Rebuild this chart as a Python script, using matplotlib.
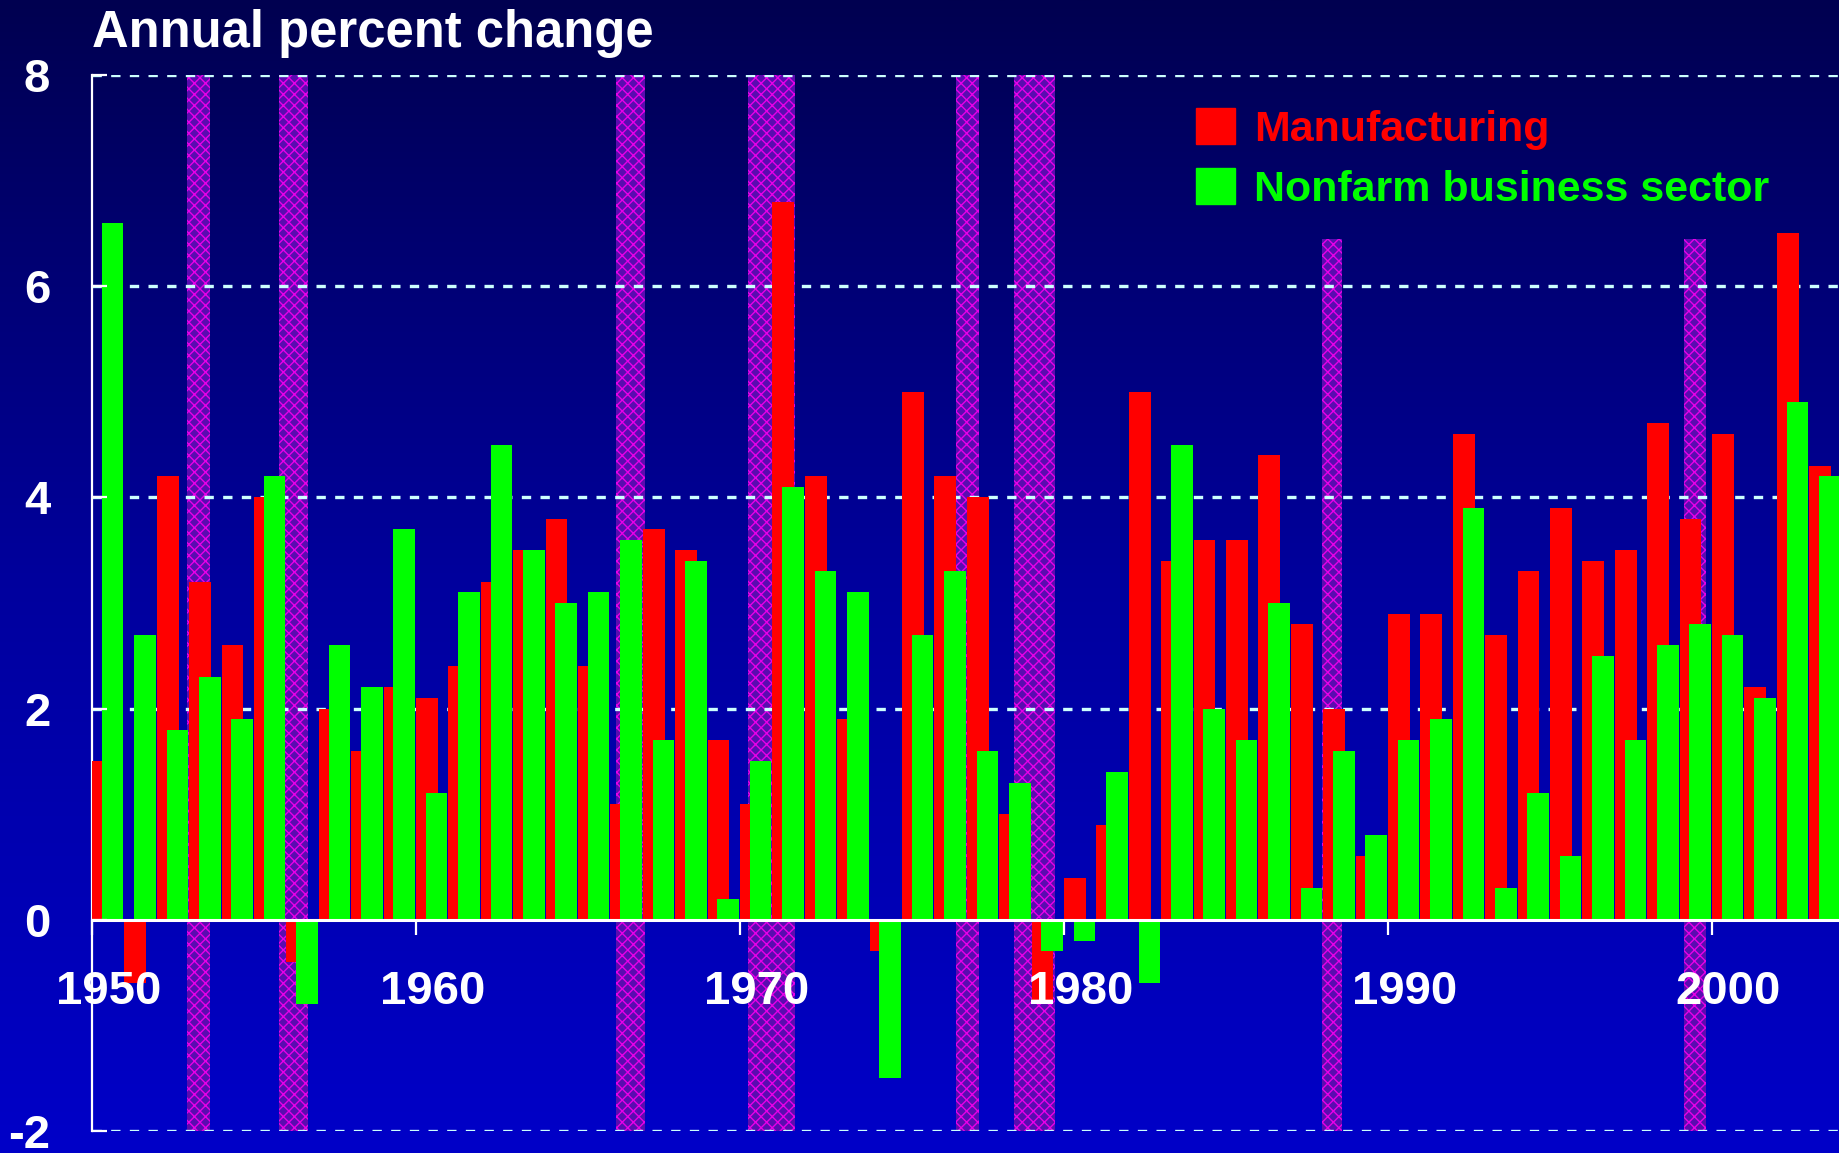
import numpy as np
import matplotlib
matplotlib.use('Agg')
import matplotlib.pyplot as plt
from matplotlib.patches import Patch

plt.rcParams['font.family'] = ['Liberation Sans', 'DejaVu Sans']
plt.rcParams['font.weight'] = 'bold'
plt.rcParams['hatch.linewidth'] = 1.0

# data
years = list(range(1950, 2004))
manufacturing = [1.5, -0.6, 4.2, 3.2, 2.6, 4.0, -0.4, 2.0, 1.6, 2.2,
                 2.1, 2.4, 3.2, 3.5, 3.8, 2.4, 1.1, 3.7, 3.5, 1.7,
                 1.1, 6.8, 4.2, 1.9, -0.3, 5.0, 4.2, 4.0, 1.0, -0.8,
                 0.4, 0.9, 5.0, 3.4, 3.6, 3.6, 4.4, 2.8, 2.0, 0.6,
                 2.9, 2.9, 4.6, 2.7, 3.3, 3.9, 3.4, 3.5, 4.7, 3.8,
                 4.6, 2.2, 6.5, 4.3]
nonfarm = [6.6, 2.7, 1.8, 2.3, 1.9, 4.2, -0.8, 2.6, 2.2, 3.7,
           1.2, 3.1, 4.5, 3.5, 3.0, 3.1, 3.6, 1.7, 3.4, 0.2,
           1.5, 4.1, 3.3, 3.1, -1.5, 2.7, 3.3, 1.6, 1.3, -0.3,
           -0.2, 1.4, -0.6, 4.5, 2.0, 1.7, 3.0, 0.3, 1.6, 0.8,
           1.7, 1.9, 3.9, 0.3, 1.2, 0.6, 2.5, 1.7, 2.6, 2.8,
           2.7, 2.1, 4.9, 4.2]

# shaded periods (start, end, top)
shade_start = [1952.93, 1955.77, 1966.17, 1970.25, 1976.67, 1978.46, 1987.96, 1999.13]
shade_end = [1953.64, 1956.67, 1967.07, 1971.70, 1977.38, 1979.72, 1988.58, 1999.82]
shade_top = [8, 8, 8, 8, 8, 8, 6.45, 6.45]

decades = [1950, 1960, 1970, 1980, 1990, 2000]
yticks = [-2, 0, 2, 4, 6, 8]

RED = '#ff0000'
GREEN = '#00ff00'
WHITE = '#ffffff'
GRID = '#ccffff'

fig = plt.figure(figsize=(18.39, 11.53), dpi=100)

# background gradient
bg = fig.add_axes([0, 0, 1, 1], zorder=-5)
pos = np.linspace(0, 1, 400)
blue = np.interp(pos, [0, 0.51, 1], [0x50, 0x9e, 0xc8]) / 255.0
grad = np.zeros((400, 1, 3))
grad[:, 0, 2] = blue
bg.imshow(grad, aspect='auto', extent=[0, 1, 0, 1], origin='upper')
bg.set_axis_off()

ax = fig.add_axes([92 / 1839, 22 / 1153, 1 - 92 / 1839, (1131 - 75) / 1153])
ax.set_facecolor('none')
ax.set_xlim(1950, 1950 + 1747 / 32.4)
ax.set_ylim(-2, 8)

for s, e, t in zip(shade_start, shade_end, shade_top):
    ax.bar(s, t + 2, width=e - s, bottom=-2, align='edge',
           color='#5a0cb0', edgecolor='#e800e8', hatch='xxx',
           linewidth=0, zorder=1)

for y in [-2, 2, 4, 6, 8]:
    ax.axhline(y, color=GRID, lw=2.4, ls=(0, (2.8, 2.8)), zorder=2)

yr = np.array(years)
ax.bar(yr + 0.0, manufacturing, width=0.67, align='edge', color=RED,
       linewidth=0, zorder=3, label='Manufacturing')
ax.bar(yr + 0.3, nonfarm, width=0.67, align='edge', color=GREEN,
       linewidth=0, zorder=4, label='Nonfarm business sector')

ax.spines['top'].set_visible(False)
ax.spines['right'].set_visible(False)
ax.spines['left'].set_color(WHITE)
ax.spines['left'].set_linewidth(1.6)
ax.spines['bottom'].set_color(WHITE)
ax.spines['bottom'].set_linewidth(2.2)
ax.spines['bottom'].set_position(('data', 0))
ax.spines['bottom'].set_zorder(5)

ax.set_yticks(yticks)
ax.set_yticklabels([str(v) for v in yticks])
ax.tick_params(axis='y', direction='in', length=11, width=1.6, color=WHITE,
               labelcolor=WHITE, labelsize=34, pad=30)

ax.set_xticks(decades)
ax.set_xticklabels([])
ax.set_xticks([d + 0.5 for d in decades], minor=True)
ax.set_xticklabels([str(d) for d in decades], minor=True)
ax.tick_params(axis='x', which='major', direction='out', length=11, width=1.6,
               color=WHITE)
ax.tick_params(axis='x', which='minor', length=0, labelcolor=WHITE,
               labelsize=34, pad=36)
ax.xaxis.set_zorder(6)
ax.yaxis.set_zorder(6)

fig.text(92 / 1839, 1 - 47 / 1153, 'Annual percent change', color=WHITE,
         fontsize=36.5, fontweight='bold', va='baseline', ha='left')

handles = [Patch(color=RED), Patch(color=GREEN)]
leg = ax.legend(handles, ['Manufacturing', 'Nonfarm business sector'],
                loc='upper left', bbox_to_anchor=(1196 / 1839, 1 - 108 / 1153),
                bbox_transform=fig.transFigure, frameon=False, borderpad=0,
                fontsize=31, handlelength=0.9, handleheight=0.9,
                handletextpad=0.45, labelspacing=0.42, borderaxespad=0)
for txt, c in zip(leg.get_texts(), [RED, GREEN]):
    txt.set_color(c)
    txt.set_fontweight('bold')
leg.set_zorder(7)

fig.savefig('out.png', dpi=100)
